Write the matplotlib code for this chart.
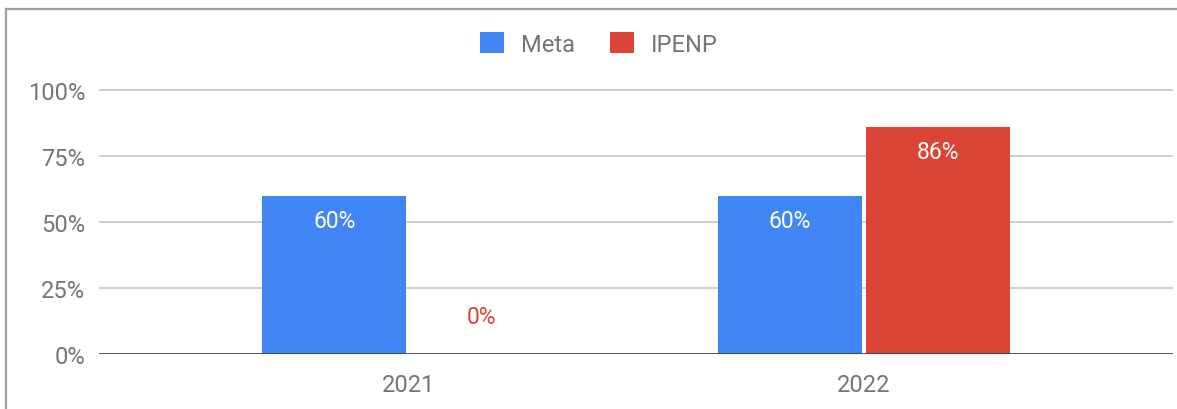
import matplotlib.pyplot as plt
from matplotlib.lines import Line2D
from matplotlib.patches import Patch
import numpy as np

plt.rcParams['font.family'] = ['Roboto', 'DejaVu Sans']

years = ['2021', '2022']
meta = [60, 60]
ipenp = [0, 86]
series_names = ['Meta', 'IPENP']
yticks = [0, 25, 50, 75, 100]

BLUE = '#4285F4'
RED = '#DB4437'
GRAY_TXT = '#757575'

W, H = 1177, 410
fig = plt.figure(figsize=(W / 100, H / 100), dpi=100)
ax = fig.add_axes([99 / W, 1 - 355 / H, (1173 - 99) / W, (355 - 88.3) / H])

x = np.arange(len(years))
bw = 0.316
off = 0.162
b1 = ax.bar(x - off, meta, bw, color=BLUE, zorder=3)
b2 = ax.bar(x + off, ipenp, bw, color=RED, zorder=3)

# value labels: inside bar top in white, or above in series colour when too short
for bars, vals, col in [(b1, meta, BLUE), (b2, ipenp, RED)]:
    for rect, v in zip(bars, vals):
        cx = rect.get_x() + rect.get_width() / 2
        if v > 10:
            ax.annotate(f'{v}%', (cx, v), xytext=(0, -18), textcoords='offset points',
                        ha='center', va='center', color='white', fontsize=16.5, zorder=4)
        else:
            ax.annotate(f'{v}%', (cx, v), xytext=(0, 27), textcoords='offset points',
                        ha='center', va='center', color=col, fontsize=16.5, zorder=4)

ax.set_xlim(-0.678, 1.678)
ax.set_ylim(0, 101)
ax.set_yticks(yticks)
ax.set_yticklabels([f'{t}%' for t in yticks])
ax.set_xticks(x)
ax.set_xticklabels(years)
ax.tick_params(axis='y', length=0, pad=10, labelsize=17, labelcolor=GRAY_TXT)
ax.tick_params(axis='x', length=0, pad=14, labelsize=17, labelcolor=GRAY_TXT)
for s in ax.spines.values():
    s.set_visible(False)
ax.grid(axis='y', color='#cccccc', linewidth=1.3, zorder=0)
ax.axhline(0, color='#333333', linewidth=1.8, zorder=5)

handles = [Patch(facecolor=BLUE, label=series_names[0]),
           Patch(facecolor=RED, label=series_names[1])]
fig.legend(handles=handles, loc='center', bbox_to_anchor=(599 / W, 1 - 45 / H),
           ncol=2, frameon=False, fontsize=17, labelcolor=GRAY_TXT,
           handlelength=1.0, handleheight=1.0, handletextpad=0.72,
           columnspacing=1.5)

# outer border (top and left edges only visible)
fig.add_artist(Line2D([5.5 / W, 1], [1 - 9.5 / H, 1 - 9.5 / H], color='#9e9e9e', linewidth=1.6))
fig.add_artist(Line2D([5.5 / W, 5.5 / W], [0, 1 - 9.5 / H], color='#9e9e9e', linewidth=1.6))

fig.savefig('out.png', dpi=100)
